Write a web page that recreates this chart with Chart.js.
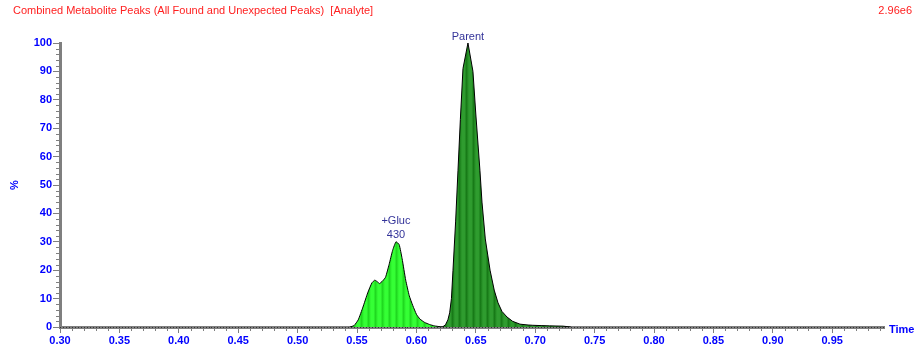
<!DOCTYPE html>
<html>
<head>
<meta charset="utf-8">
<script src="https://cdn.jsdelivr.net/npm/chart.js@4"></script>
<style>
  html, body { margin: 0; padding: 0; background: #fff; }
  #wrap { width: 918px; height: 350px; position: relative; }
</style>
</head>
<body>
<div id="wrap"><canvas id="peakChart" width="918" height="350"></canvas></div>
<script>
// chart data (time in minutes, relative intensity %)
var titleText = 'Combined Metabolite Peaks (All Found and Unexpected Peaks)  [Analyte]';
var scaleText = '2.96e6';

var glucTime = [0.544, 0.5475, 0.551, 0.555, 0.559, 0.5625, 0.565, 0.5675, 0.569, 0.5715,
                0.574, 0.577, 0.580, 0.5828, 0.5855, 0.588, 0.591, 0.594, 0.597, 0.600,
                0.603, 0.607, 0.611, 0.615, 0.620, 0.623];
var glucPct  = [0, 0.5, 2.5, 7, 12, 15.5, 16.5, 15.8, 15.3, 16.2,
                17.5, 22, 27, 30, 29, 24, 16.5, 11, 7.5, 4.5,
                2.8, 1.6, 0.9, 0.4, 0.1, 0];

var parentTime = [0.622, 0.6245, 0.6265, 0.628, 0.6295, 0.6308, 0.633, 0.635, 0.637, 0.6392,
                  0.6434, 0.6476, 0.650, 0.6535, 0.6552, 0.658, 0.662, 0.6655, 0.6687, 0.672,
                  0.6763, 0.681, 0.6872, 0.694, 0.698, 0.705, 0.712, 0.7234, 0.73];
var parentPct  = [0, 0.8, 2.5, 5, 10, 20, 37, 55, 73, 91,
                  100, 90, 75, 55, 44, 31, 20, 13, 8.5, 5.5,
                  3.5, 2, 1, 0.7, 0.6, 0.5, 0.4, 0.3, 0];

// peak annotations
var peakNames  = [['+Gluc', '430'], ['Parent']];
var peakTimes  = [0.5828, 0.6434];
var peakValues = [30, 100];

function toPoints(xs, ys) {
    return xs.map(function(x, i) { return { x: x, y: ys[i] }; });
}

// vertical striped fill like the instrument software
function stripePattern(light, dark) {
    var c = document.createElement('canvas');
    c.width = 7; c.height = 4;
    var g = c.getContext('2d');
    var grad = g.createLinearGradient(0, 0, 7, 0);
    grad.addColorStop(0, light);
    grad.addColorStop(0.35, light);
    grad.addColorStop(0.65, dark);
    grad.addColorStop(1, light);
    g.fillStyle = grad;
    g.fillRect(0, 0, 7, 4);
    return g.createPattern(c, 'repeat');
}

var blue = '#0000ff';
var axisGray = '#7f7f7f';

// minor ticks, time label, header texts, peak labels
var extrasPlugin = {
    id: 'extras',
    afterDraw: function(chart) {
        var ctx = chart.ctx;
        var xs = chart.scales.x, ys = chart.scales.y;
        var base = ys.getPixelForValue(0);
        ctx.save();

        // minor ticks
        ctx.strokeStyle = axisGray;
        ctx.lineWidth = 1;
        ctx.beginPath();
        for (var i = 0; i <= 69; i++) {
            var v = 0.30 + i * 0.01;
            if (i % 5 === 0) continue;
            var px = Math.round(xs.getPixelForValue(v)) + 0.5;
            ctx.moveTo(px, base);
            ctx.lineTo(px, base + 4);
        }
        for (var j = 0; j <= 50; j++) {
            if (j % 5 === 0) continue;
            var py = Math.round(ys.getPixelForValue(j * 2)) + 0.5;
            ctx.moveTo(xs.left, py);
            ctx.lineTo(xs.left - 4, py);
        }
        ctx.stroke();

        // little dots on the time axis
        ctx.fillStyle = '#333';
        for (var k = 0; k <= 278; k++) {
            var dx = Math.round(xs.getPixelForValue(0.30 + k * 0.0025));
            if (dx > xs.right) break;
            ctx.fillRect(dx, base, 1, 1);
        }

        // header
        ctx.font = '11px "Liberation Sans", Arial, sans-serif';
        ctx.fillStyle = '#ff2020';
        ctx.textBaseline = 'middle';
        ctx.textAlign = 'left';
        ctx.fillText(titleText, 13, 11);
        ctx.textAlign = 'right';
        ctx.fillText(scaleText, 912, 11);

        // axis name
        ctx.font = 'bold 11px "Liberation Sans", Arial, sans-serif';
        ctx.fillStyle = blue;
        ctx.textAlign = 'left';
        ctx.fillText('Time', xs.right + 5, base + 3);

        // peak labels
        ctx.font = '11px "Liberation Sans", Arial, sans-serif';
        ctx.fillStyle = '#333399';
        ctx.textAlign = 'center';
        ctx.textBaseline = 'bottom';
        peakNames.forEach(function(lines, n) {
            var lx = xs.getPixelForValue(peakTimes[n]);
            var ly = ys.getPixelForValue(peakValues[n]) - 1;
            for (var m = lines.length - 1; m >= 0; m--) {
                ctx.fillText(lines[m], lx, ly);
                ly -= 14;
            }
        });
        ctx.restore();
    }
};

var ctx = document.getElementById('peakChart').getContext('2d');
var myChart = new Chart(ctx, {
    type: 'line',
    data: {
        datasets: [
            {
                label: '+Gluc',
                data: toPoints(glucTime, glucPct),
                borderColor: '#000',
                borderWidth: 1,
                backgroundColor: stripePattern('#35ff35', '#1fd81f'),
                fill: 'origin',
                pointRadius: 0,
                tension: 0.15
            },
            {
                label: 'Parent',
                data: toPoints(parentTime, parentPct),
                borderColor: '#000',
                borderWidth: 1,
                backgroundColor: stripePattern('#2f9c2f', '#177a17'),
                fill: 'origin',
                pointRadius: 0,
                tension: 0
            }
        ]
    },
    options: {
        responsive: false,
        animation: false,
        events: [],
        layout: { padding: { top: 43, right: 34, bottom: 0, left: 0 } },
        plugins: {
            legend: { display: false },
            tooltip: { enabled: false }
        },
        scales: {
            x: {
                type: 'linear',
                min: 0.30,
                max: 0.9936,
                afterFit: function(s) { s.height = 23; },
                grid: { drawOnChartArea: false, color: axisGray, tickLength: 6, tickWidth: 1 },
                border: { color: axisGray, width: 3 },
                ticks: {
                    stepSize: 0.05,
                    includeBounds: false,
                    maxRotation: 0,
                    autoSkip: false,
                    padding: 1,
                    color: blue,
                    font: { family: '"Liberation Sans", Arial, sans-serif', size: 11, weight: 'bold' },
                    callback: function(v) { return v.toFixed(2); }
                }
            },
            y: {
                min: 0,
                max: 100,
                afterFit: function(s) { s.width = 60; },
                grid: { drawOnChartArea: false, color: axisGray, tickLength: 7, tickWidth: 1 },
                border: { color: axisGray, width: 3 },
                title: {
                    display: true,
                    text: '%',
                    color: blue,
                    padding: { top: 8, bottom: 0 },
                    font: { family: '"Liberation Sans", Arial, sans-serif', size: 11, weight: 'bold' }
                },
                ticks: {
                    stepSize: 10,
                    padding: 1,
                    color: blue,
                    font: { family: '"Liberation Sans", Arial, sans-serif', size: 11, weight: 'bold' }
                }
            }
        }
    },
    plugins: [extrasPlugin]
});
</script>
</body>
</html>
